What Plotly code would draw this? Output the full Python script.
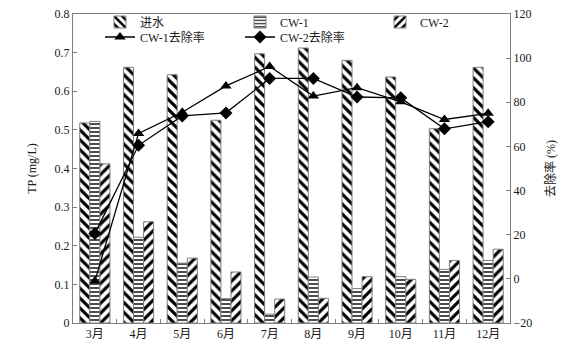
import plotly.graph_objects as go

months = ["3月", "4月", "5月", "6月", "7月", "8月", "9月", "10月", "11月", "12月"]
inflow = [0.518, 0.662, 0.643, 0.525, 0.697, 0.712, 0.680, 0.637, 0.503, 0.662]
cw1 = [0.522, 0.222, 0.155, 0.063, 0.023, 0.119, 0.089, 0.120, 0.139, 0.162]
cw2 = [0.412, 0.262, 0.168, 0.132, 0.062, 0.064, 0.120, 0.113, 0.162, 0.191]
cw1_rate = [-1.0, 65.9, 75.5, 87.4, 96.2, 82.8, 86.6, 80.2, 72.2, 75.0]
cw2_rate = [20.5, 60.5, 73.8, 75.2, 90.8, 90.8, 82.4, 82.0, 68.0, 71.2]

FONT = "Liberation Serif, Times New Roman, Noto Sans CJK SC, serif"
TXT = "#1a1a1a"
AX = "#808080"

W, H = 579, 358

fig = go.Figure()

bar_specs = [
    ("进水", inflow, "\\", 7, 0.45),
    ("CW-1", cw1, "-", 4, 0.35),
    ("CW-2", cw2, "/", 7, 0.45),
]
for name, vals, shape, size, sol in bar_specs:
    fig.add_trace(go.Bar(
        x=months, y=vals, name=name, legend="legend",
        marker=dict(color="white",
                    line=dict(color=AX, width=1),
                    pattern=dict(shape=shape, size=size, solidity=sol,
                                 fgcolor="black", bgcolor="white",
                                 fillmode="replace")),
    ))

fig.add_trace(go.Scatter(
    x=months, y=cw1_rate, name="CW-1去除率", yaxis="y2", legend="legend2",
    mode="lines+markers", line=dict(color="black", width=1.3),
    marker=dict(symbol="triangle-up", size=10, color="black"),
))
fig.add_trace(go.Scatter(
    x=months, y=cw2_rate, name="CW-2去除率", yaxis="y2", legend="legend2",
    mode="lines+markers", line=dict(color="black", width=1.3),
    marker=dict(symbol="diamond", size=10, color="black"),
))

leg_common = dict(orientation="h", xref="container", yref="container",
                  x=100 / W, xanchor="left", yanchor="middle",
                  entrywidth=95, entrywidthmode="pixels",
                  bgcolor="rgba(0,0,0,0)", borderwidth=0,
                  font=dict(size=12, family=FONT, color=TXT))

fig.update_layout(
    width=W, height=H,
    margin=dict(l=73, r=69, t=14, b=35, autoexpand=False),
    paper_bgcolor="white", plot_bgcolor="white",
    font=dict(family=FONT, size=12, color=TXT),
    barmode="group", bargap=0.31, bargroupgap=0,
    showlegend=True,
    legend=dict(leg_common, y=1 - 22 / H),
    legend2=dict(leg_common, y=1 - 37 / H),
    xaxis=dict(type="category", range=[-0.5, len(months) - 0.5],
               showline=True, linecolor=AX, linewidth=1,
               mirror=True, ticks="inside", ticklen=4, tickcolor=AX,
               tickson="boundaries", showgrid=False, automargin=False,
               tickfont=dict(size=12, family=FONT, color=TXT)),
    yaxis=dict(range=[0, 0.8], dtick=0.1, showline=True, linecolor=AX,
               linewidth=1, ticks="inside", ticklen=4, tickcolor=AX,
               showgrid=False, zeroline=False, automargin=False,
               title=dict(text="TP (mg/L)", font=dict(size=12, family=FONT, color=TXT)),
               tickfont=dict(size=12, family=FONT, color=TXT)),
    yaxis2=dict(range=[-20, 120], dtick=20, overlaying="y", side="right",
                showline=True, linecolor=AX, linewidth=1, ticks="inside",
                ticklen=4, tickcolor=AX, showgrid=False, zeroline=False,
                automargin=False,
                title=dict(text="去除率 (%)", font=dict(size=12, family=FONT, color=TXT)),
                tickfont=dict(size=12, family=FONT, color=TXT)),
)

fig.write_html("out.html",
               config={"displayModeBar": False},
               post_script="document.body.style.margin='0';document.body.style.overflow='hidden';")
